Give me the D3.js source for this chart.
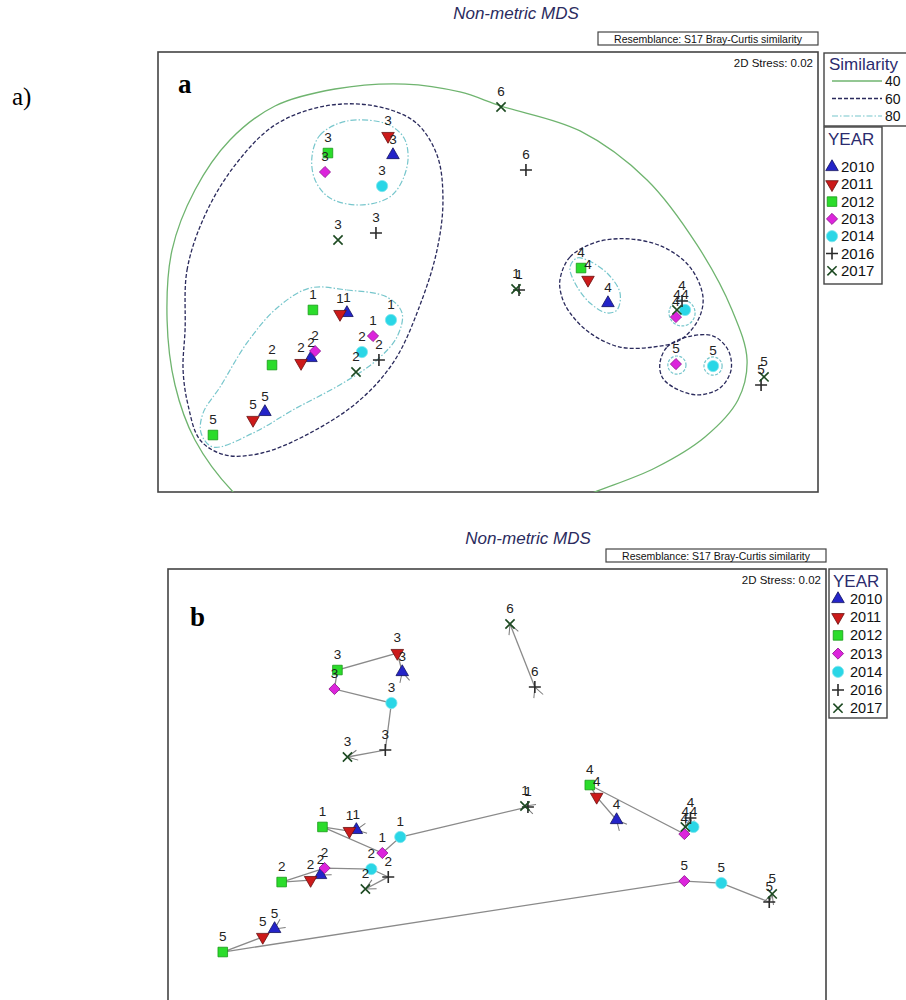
<!DOCTYPE html>
<html>
<head>
<meta charset="utf-8">
<script src="https://d3js.org/d3.v7.min.js"></script>
<style>
  body { margin: 0; background: #fff; }
  svg { display: block; font-family: "Liberation Sans", Arial, sans-serif; }
</style>
</head>
<body>
<svg width="906" height="1000"></svg>
<script>
// sampling years (legend order) and site labels
const years = [2010, 2011, 2012, 2013, 2014, 2016, 2017];
const sites = [1, 2, 3, 4, 5, 6];

// nMDS coordinates per site, in year order (null = not sampled)
const site1X = [-0.855, -0.897, -1.061, -0.697, -0.588, 0.188, 0.170];
const site1Y = [-0.248, -0.255, -0.230, -0.388, -0.291, -0.109, -0.103];
const site2X = [-1.073, -1.133, -1.309, -1.048, -0.764, -0.661, -0.800];
const site2Y = [-0.521, -0.552, -0.564, -0.479, -0.485, -0.533, -0.606];
const site3X = [-0.576, -0.606, -0.970, -0.988, -0.642, -0.679, -0.909];
const site3Y = [0.709, 0.824, 0.721, 0.606, 0.521, 0.236, 0.194];
const site4X = [0.727, 0.606, 0.564, 1.139, 1.194, 1.176, 1.145];
const site4Y = [-0.188, -0.048, 0.024, -0.273, -0.230, -0.176, -0.230];
const site5X = [-1.352, -1.424, -1.667, 1.139, 1.364, 1.655, 1.673];
const site5Y = [-0.848, -0.897, -0.988, -0.558, -0.570, -0.685, -0.636];
const site6X = [null, null, null, null, null, 0.230, 0.079];
const site6Y = [null, null, null, null, null, 0.618, 1.000];

// similarity contours (cluster overlay), in nMDS units
const sim40 = [[-1.945,-0.291],[-1.915,0.133],[-1.776,0.497],[-1.564,0.800],[-1.291,1.006],[-0.927,1.109],
  [-0.503,1.139],[-0.170,1.091],[0.079,1.006],[0.558,0.855],[0.964,0.558],[1.267,0.164],[1.479,-0.230],
  [1.570,-0.533],[1.515,-0.776],[1.315,-1.000],[1.012,-1.188],[0.618,-1.345],[0.073,-1.564],[-0.655,-1.673],
  [-1.261,-1.564],[-1.545,-1.333],[-1.776,-1.018],[-1.897,-0.685]];
const sim60a = [[-1.836,-0.352],[-1.824,0.012],[-1.715,0.345],[-1.533,0.648],[-1.291,0.891],[-0.988,1.006],
  [-0.685,1.006],[-0.442,0.909],[-0.309,0.709],[-0.273,0.436],[-0.309,0.133],[-0.412,-0.200],[-0.564,-0.533],
  [-0.776,-0.776],[-1.079,-0.976],[-1.370,-1.097],[-1.594,-1.109],[-1.745,-1.018],[-1.818,-0.806],[-1.848,-0.594]];
const sim60b = [[0.436,-0.048],[0.497,0.091],[0.661,0.182],[0.861,0.200],[1.061,0.152],[1.224,0.030],[1.303,-0.152],
  [1.273,-0.291],[1.164,-0.412],[1.000,-0.455],[0.800,-0.455],[0.618,-0.370],[0.497,-0.248],[0.448,-0.152]];
const sim60c = [[1.042,-0.552],[1.085,-0.455],[1.206,-0.394],[1.364,-0.388],[1.455,-0.473],[1.473,-0.594],
  [1.406,-0.703],[1.267,-0.745],[1.121,-0.697],[1.055,-0.636]];
const sim80a = [[-1.067,0.697],[-1.018,0.830],[-0.855,0.915],[-0.612,0.897],[-0.509,0.812],[-0.485,0.679],
  [-0.533,0.527],[-0.606,0.448],[-0.776,0.406],[-0.958,0.448],[-1.048,0.558]];
const sim80b = [[-1.079,-0.097],[-0.855,-0.109],[-0.612,-0.152],[-0.521,-0.248],[-0.552,-0.394],[-0.673,-0.533],
  [-0.879,-0.673],[-1.182,-0.836],[-1.424,-0.976],[-1.667,-1.061],[-1.739,-0.976],[-1.727,-0.855],
  [-1.624,-0.697],[-1.461,-0.430],[-1.279,-0.218]];
const sim80c = [[0.497,0.030],[0.539,0.085],[0.600,0.073],[0.721,-0.006],[0.800,-0.127],[0.782,-0.230],
  [0.721,-0.248],[0.618,-0.188],[0.527,-0.067]];
// small 80% rings: centre x, centre y, radius
const sim80Rings = [[1.176,-0.248,0.079],[1.145,-0.564,0.055],[1.364,-0.570,0.055]];
const simLevels = [40, 60, 80];

const siteX = [site1X, site2X, site3X, site4X, site5X, site6X];
const siteY = [site1Y, site2Y, site3Y, site4Y, site5Y, site6Y];

const points = [];
sites.forEach((s, si) => years.forEach((yr, yi) => {
    if (siteX[si][yi] !== null) points.push({ site: s, year: yr, x: siteX[si][yi], y: siteY[si][yi] });
}));

// marker look per year
const yearStyle = {
    2010: { sym: d3.symbolTriangle, size: 68, rot: 0, fill: '#2424c8', stroke: '#121260' },
    2011: { sym: d3.symbolTriangle, size: 68, rot: 180, fill: '#cc1a1a', stroke: '#6a1010' },
    2012: { sym: d3.symbolSquare, size: 92, rot: 0, fill: '#2bdc2b', stroke: '#179a17' },
    2013: { sym: d3.symbolSquare, size: 62, rot: 45, fill: '#dc24dc', stroke: '#901890' },
    2014: { sym: d3.symbolCircle, size: 100, rot: 0, fill: '#2ad6e6', stroke: '#7fe6ee' },
    2016: { path: 'M-6,0H6M0,-6V6', stroke: '#2a2a2a' },
    2017: { path: 'M-4.6,-4.6L4.6,4.6M-4.6,4.6L4.6,-4.6', stroke: '#1d4a22' }
};
const simStyle = {
    40: { stroke: '#6fb46f', dash: null, width: 1.3 },
    60: { stroke: '#2a2a5c', dash: '4,2', width: 1.3 },
    80: { stroke: '#77c6cc', dash: '6,2,1.5,2', width: 1.2 }
};

const svg = d3.select('svg');

const drawSymbol = (sel, yr) => {
    const st = yearStyle[yr];
    if (st.path) {
        sel.append('path').attr('d', st.path).attr('fill', 'none')
            .attr('stroke', st.stroke).attr('stroke-width', 1.6);
    } else {
        sel.append('path').attr('d', d3.symbol(st.sym, st.size)())
            .attr('transform', `rotate(${st.rot})`)
            .attr('fill', st.fill).attr('stroke', st.stroke).attr('stroke-width', 0.8);
    }
};

// header: title, resemblance box, stress
const drawHeader = (cfg) => {
    svg.append('text').attr('x', cfg.titleX).attr('y', cfg.titleY)
        .attr('text-anchor', 'middle').attr('font-size', 17).attr('font-style', 'italic')
        .attr('fill', '#2b2b5e').text('Non-metric MDS');
    svg.append('rect').attr('x', cfg.right - 220).attr('y', cfg.top - 20)
        .attr('width', 220).attr('height', 13)
        .attr('fill', '#fff').attr('stroke', '#444').attr('stroke-width', 1.2);
    svg.append('text').attr('x', cfg.right - 110).attr('y', cfg.top - 9.5)
        .attr('text-anchor', 'middle').attr('font-size', 10.5).attr('fill', '#111')
        .text('Resemblance: S17 Bray-Curtis similarity');
    svg.append('rect').attr('x', cfg.left).attr('y', cfg.top)
        .attr('width', cfg.right - cfg.left).attr('height', 440)
        .attr('fill', 'none').attr('stroke', '#444').attr('stroke-width', 1.6);
    svg.append('text').attr('x', cfg.right - 5).attr('y', cfg.top + 15)
        .attr('text-anchor', 'end').attr('font-size', 11.5).attr('fill', '#111')
        .text('2D Stress: 0.02');
    svg.append('text').attr('x', cfg.letterX).attr('y', cfg.top + cfg.letterDy)
        .attr('font-family', '"Liberation Serif", "Times New Roman", serif')
        .attr('font-weight', 'bold').attr('font-size', 27).attr('fill', '#000')
        .text(cfg.letter);
};

const drawYearLegend = (lg) => {
    const g = svg.append('g');
    g.append('rect').attr('x', lg.x).attr('y', lg.y).attr('width', 58).attr('height', lg.h)
        .attr('fill', '#fff').attr('stroke', '#444').attr('stroke-width', 1.4);
    g.append('text').attr('x', lg.x + 4).attr('y', lg.y + lg.titleDy).attr('font-size', 17)
        .attr('fill', '#2b2b6e').text('YEAR');
    years.forEach((yr, i) => {
        const row = g.append('g').attr('transform', `translate(${lg.x + lg.symDx},${lg.y + lg.firstDy + i * lg.step})`);
        drawSymbol(row, yr);
        row.append('text').attr('x', lg.textDx).attr('y', 5).attr('font-size', lg.font)
            .attr('fill', '#111').text(yr);
    });
};

const makeScales = cfg => ({
    x: d3.scaleLinear().domain([-2, 2]).range([cfg.left, cfg.right]),
    y: d3.scaleLinear().domain([-4 / 3, 4 / 3]).range([cfg.top + 440, cfg.top])
});

const drawPoints = (g, x, y) => {
    years.forEach(yr => {
        points.filter(p => p.year === yr).forEach(p => {
            const m = g.append('g').attr('transform', `translate(${x(p.x)},${y(p.y)})`);
            drawSymbol(m, yr);
        });
    });
    g.selectAll('text.lab').data(points).join('text')
        .attr('class', 'lab')
        .attr('x', d => x(d.x)).attr('y', d => y(d.y) - 11)
        .attr('text-anchor', 'middle').attr('font-size', 13.5).attr('fill', '#222')
        .text(d => d.site);
};

// ---------- panel a ----------
const cfgA = { left: 158, right: 818, top: 52, titleX: 516, titleY: 19, letter: 'a', letterX: 178, letterDy: 41 };
svg.append('text').attr('x', 12).attr('y', 105)
    .attr('font-family', '"Liberation Serif", "Times New Roman", serif')
    .attr('font-size', 25).attr('fill', '#000').text('a)');
drawHeader(cfgA);
{
    const { x, y } = makeScales(cfgA);
    svg.append('clipPath').attr('id', 'clipA').append('rect')
        .attr('x', cfgA.left).attr('y', cfgA.top).attr('width', 660).attr('height', 440);
    const g = svg.append('g').attr('clip-path', 'url(#clipA)');
    const contour = d3.line().x(d => x(d[0])).y(d => y(d[1])).curve(d3.curveCatmullRomClosed.alpha(0.5));
    const contours = [
        { lvl: 40, pts: sim40 }, { lvl: 60, pts: sim60a }, { lvl: 60, pts: sim60b }, { lvl: 60, pts: sim60c },
        { lvl: 80, pts: sim80a }, { lvl: 80, pts: sim80b }, { lvl: 80, pts: sim80c }
    ];
    contours.forEach(c => {
        const st = simStyle[c.lvl];
        g.append('path').attr('d', contour(c.pts)).attr('fill', 'none')
            .attr('stroke', st.stroke).attr('stroke-width', st.width)
            .attr('stroke-dasharray', st.dash);
    });
    sim80Rings.forEach(r => {
        g.append('circle').attr('cx', x(r[0])).attr('cy', y(r[1])).attr('r', x(r[2]) - x(0))
            .attr('fill', 'none').attr('stroke', simStyle[80].stroke)
            .attr('stroke-width', simStyle[80].width).attr('stroke-dasharray', '3,1.5');
    });
    drawPoints(svg.append('g'), x, y);

    // similarity legend
    const lg = svg.append('g');
    lg.append('rect').attr('x', 824).attr('y', 53).attr('width', 100).attr('height', 73)
        .attr('fill', '#fff').attr('stroke', '#444').attr('stroke-width', 1.4);
    lg.append('text').attr('x', 829).attr('y', 70).attr('font-size', 17)
        .attr('fill', '#2b2b6e').text('Similarity');
    simLevels.forEach((lvl, i) => {
        const st = simStyle[lvl];
        lg.append('line').attr('x1', 832).attr('x2', 882)
            .attr('y1', 81 + i * 17.5).attr('y2', 81 + i * 17.5)
            .attr('stroke', st.stroke).attr('stroke-width', st.width).attr('stroke-dasharray', st.dash);
        lg.append('text').attr('x', 885).attr('y', 86 + i * 17.5).attr('font-size', 14)
            .attr('fill', '#111').text(lvl);
    });
    drawYearLegend({ x: 824, y: 127, h: 157, titleDy: 18, firstDy: 40, step: 17.3, symDx: 8, textDx: 9, font: 15 });
}

// ---------- panel b ----------
const cfgB = { left: 168, right: 826, top: 569, titleX: 528, titleY: 544, letter: 'b', letterX: 190, letterDy: 57 };
drawHeader(cfgB);
{
    const { x, y } = makeScales(cfgB);
    const defs = svg.append('defs');
    defs.append('marker').attr('id', 'chev')
        .attr('viewBox', '-12 -7 14 14').attr('refX', 0).attr('refY', 0)
        .attr('markerWidth', 14).attr('markerHeight', 14)
        .attr('markerUnits', 'userSpaceOnUse').attr('orient', 'auto')
        .append('path').attr('d', 'M-10,-5L0,0L-10,5')
        .attr('fill', 'none').attr('stroke', '#7a7a7a').attr('stroke-width', 1);

    const traj = d3.line().x(d => x(d.x)).y(d => y(d.y));
    const g = svg.append('g');
    sites.forEach(s => {
        const pts = points.filter(p => p.site === s);
        g.append('path').attr('d', traj(pts)).attr('fill', 'none')
            .attr('stroke', '#8a8a8a').attr('stroke-width', 1.3)
            .attr('marker-start', 'url(#chev)').attr('marker-end', 'url(#chev)');
    });
    drawPoints(svg.append('g'), x, y);
    drawYearLegend({ x: 829, y: 569, h: 149, titleDy: 18, firstDy: 30, step: 18.2, symDx: 9, textDx: 12, font: 14.5 });
}
</script>
</body>
</html>
